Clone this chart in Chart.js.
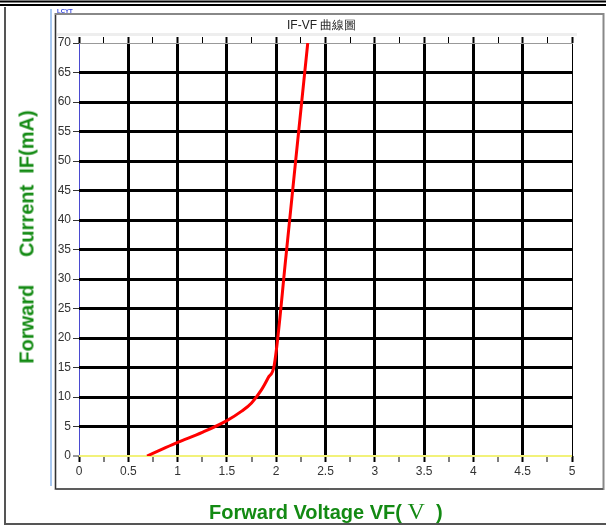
<!DOCTYPE html>
<html>
<head>
<meta charset="utf-8">
<script src="https://cdn.jsdelivr.net/npm/chart.js@4"></script>
<style>
    body { margin: 0; background: #fff; }
    #wrap { position: relative; width: 606px; height: 527px; overflow: hidden; }
    #ivChart { position: absolute; left: 0; top: 0; }
    .txt { position: absolute; white-space: pre; font-family: "Liberation Sans", Arial, sans-serif; }
    #chartTitle { left: 287px; top: 17px; font-size: 12px; color: #222; }
    #logo { left: 57px; top: 8px; font-size: 6px; font-weight: bold; color: #3344dd; }
    #xTitle { left: 209px; top: 498px; font-size: 20px; font-weight: bold; color: #138a13; }
    #xTitle span { font-family: "Liberation Serif", serif; font-weight: normal; font-size: 24px; }
    #yTitle { left: 27px; top: 237px; font-size: 20px; font-weight: bold; color: #138a13;
              transform: translate(-50%, -50%) rotate(-90deg); }
</style>
</head>
<body>
<div id="wrap">
    <canvas id="ivChart" width="606" height="527"></canvas>
    <div class="txt" id="logo">LCYT</div>
    <div class="txt" id="chartTitle">IF-VF 曲線圖</div>
    <div class="txt" id="yTitle">Forward     Current  IF(mA)</div>
    <div class="txt" id="xTitle">Forward Voltage VF( <span>V</span>  )</div>
</div>
<script>
// IF-VF curve
const forwardVoltage = [0.69, 0.85, 1.00, 1.25, 1.50, 1.65, 1.75, 1.85, 1.92, 1.98, 2.10, 2.20, 2.32];
const forwardCurrent = [0, 1.2, 2.3, 4.0, 6.0, 7.6, 9.0, 11.2, 13.3, 15.4, 34.0, 50.5, 70.0];

const xMin = 0, xMax = 5, xStep = 0.25;
const yMin = 0, yMax = 70, yStep = 5;

const curvePoints = forwardVoltage.map((v, i) => ({ x: v, y: forwardCurrent[i] }));

// frame around the plot, like the old dialog window
const framePlugin = {
    id: 'frame',
    beforeDraw(chart) {
        const ctx = chart.ctx;
        ctx.save();
        ctx.fillStyle = '#fff';
        ctx.fillRect(0, 0, chart.width, chart.height);

        ctx.strokeStyle = '#000';
        ctx.lineWidth = 2;
        ctx.beginPath();
        ctx.moveTo(0, 1.5); ctx.lineTo(606, 1.5);
        ctx.moveTo(0, 5); ctx.lineTo(606, 5);
        ctx.stroke();

        // outer box
        ctx.strokeStyle = '#555';
        ctx.lineWidth = 2;
        ctx.beginPath();
        ctx.moveTo(5, 7); ctx.lineTo(5, 524); ctx.lineTo(606, 524);
        ctx.stroke();

        // inner box
        ctx.strokeStyle = '#888';
        ctx.lineWidth = 2;
        ctx.strokeRect(55.5, 14, 548, 475);
        ctx.strokeStyle = '#333';
        ctx.lineWidth = 1;
        ctx.beginPath();
        ctx.moveTo(55.5, 15); ctx.lineTo(55.5, 489);
        ctx.lineTo(603, 489);
        ctx.stroke();

        // light blue side line
        ctx.strokeStyle = '#a8c8f0';
        ctx.lineWidth = 2;
        ctx.beginPath();
        ctx.moveTo(51, 9); ctx.lineTo(51, 486);
        ctx.stroke();

        // light band under the title
        ctx.fillStyle = '#eeeeee';
        ctx.fillRect(57, 33, 520, 3);
        ctx.restore();
    }
};

function isMajor(v) {
    return Math.abs(v * 2 - Math.round(v * 2)) < 1e-6;
}

new Chart(document.getElementById('ivChart'), {
    type: 'scatter',
    data: {
        datasets: [{
            label: 'IF-VF',
            data: curvePoints,
            showLine: true,
            borderColor: '#ff0000',
            borderWidth: 3,
            pointRadius: 0,
            cubicInterpolationMode: 'monotone'
        }]
    },
    options: {
        responsive: false,
        animation: false,
        devicePixelRatio: 1,
        layout: { padding: { left: 0, right: 34, top: 0, bottom: 0 } },
        plugins: {
            legend: { display: false },
            tooltip: { enabled: false }
        },
        scales: {
            x: {
                type: 'linear',
                position: 'bottom',
                min: xMin,
                max: xMax,
                afterBuildTicks(scale) {
                    const t = [];
                    for (let v = xMin; v <= xMax + 1e-9; v += xStep) t.push({ value: +v.toFixed(2) });
                    scale.ticks = t;
                },
                afterFit(scale) { scale.height = 71; },
                border: { display: false },
                grid: {
                    drawTicks: true,
                    tickLength: 6,
                    color: c => {
                        const v = c.tick.value;
                        if (v === 0) return '#4a4ad0';
                        return isMajor(v) ? '#000' : 'rgba(0,0,0,0)';
                    },
                    lineWidth: c => {
                        const v = c.tick.value;
                        if (v === 0 || v === 5) return 1;
                        return isMajor(v) ? 3 : 0;
                    },
                    tickColor: '#000',
                    tickWidth: c => isMajor(c.tick.value) ? 2 : 1
                },
                ticks: {
                    autoSkip: false,
                    maxRotation: 0,
                    padding: 2,
                    color: '#333',
                    font: { family: 'Liberation Sans', size: 12 },
                    callback: v => isMajor(v) ? String(v) : ''
                }
            },
            xTop: {
                type: 'linear',
                position: 'top',
                min: xMin,
                max: xMax,
                afterBuildTicks(scale) {
                    const t = [];
                    for (let v = xMin; v <= xMax + 1e-9; v += xStep) t.push({ value: +v.toFixed(2) });
                    scale.ticks = t;
                },
                afterFit(scale) { scale.height = 43; },
                border: { display: true, color: '#999', width: 1 },
                grid: {
                    drawOnChartArea: false,
                    drawTicks: true,
                    tickLength: 6,
                    tickColor: '#000',
                    tickWidth: c => isMajor(c.tick.value) ? 2 : 1
                },
                ticks: { display: false }
            },
            y: {
                type: 'linear',
                position: 'left',
                min: yMin,
                max: yMax,
                afterBuildTicks(scale) {
                    const t = [];
                    for (let v = yMin; v <= yMax; v += yStep) t.push({ value: v });
                    scale.ticks = t;
                },
                afterFit(scale) { scale.width = 79; },
                border: { display: false },
                grid: {
                    drawTicks: true,
                    tickLength: 6,
                    tickColor: '#333',
                    tickWidth: 1,
                    color: c => {
                        const v = c.tick.value;
                        if (v === 0) return '#f2f27a';
                        if (v === 70) return '#e6e050';
                        return '#000';
                    },
                    lineWidth: c => {
                        const v = c.tick.value;
                        if (v === 0) return 2;
                        if (v === 70) return 1;
                        return 3;
                    }
                },
                ticks: {
                    autoSkip: false,
                    padding: 2,
                    color: '#333',
                    font: { family: 'Liberation Sans', size: 12 }
                }
            }
        }
    },
    plugins: [framePlugin]
});
</script>
</body>
</html>
